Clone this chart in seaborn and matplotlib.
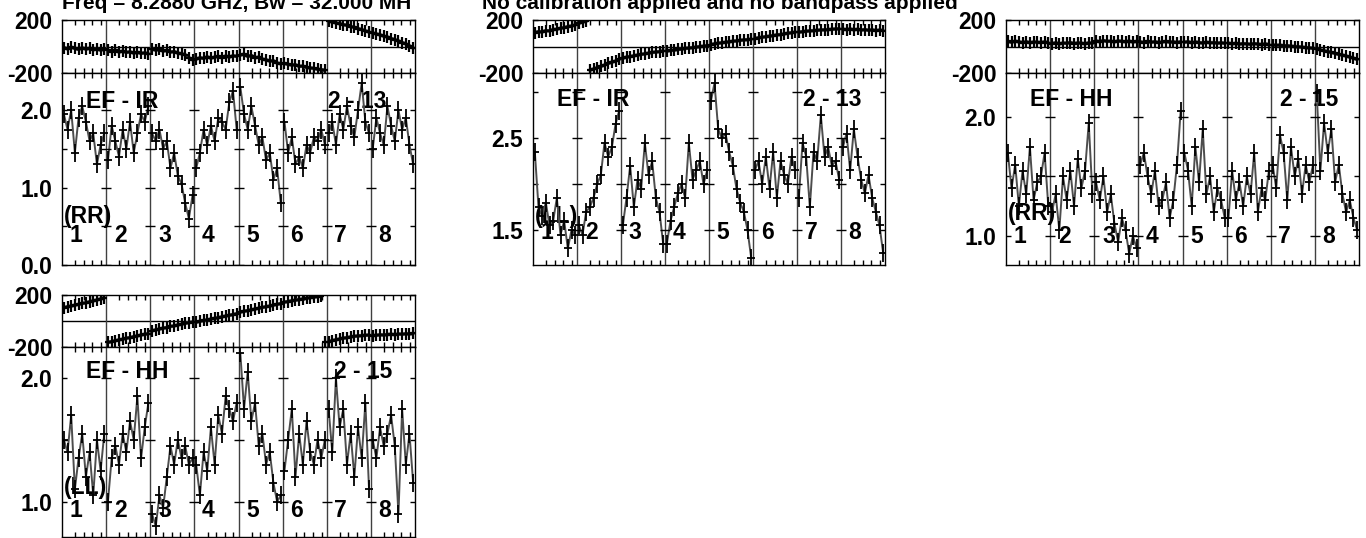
import numpy as np
import pandas as pd
import matplotlib
matplotlib.use("Agg")
import matplotlib.pyplot as plt
import seaborn as sns
from matplotlib.path import Path

# 8 IFs, 12 channels each
n_if = 8
n_chan = 12
if_names = ["1", "2", "3", "4", "5", "6", "7", "8"]

title_left = "Freq = 8.2880 GHz, Bw = 32.000 MH"
title_right = "No calibration applied and no bandpass applied"

# EF - IR, 2 - 13, RR
amp_p1 = [1.95, 1.75, 2.0, 1.45, 1.9, 2.05, 1.85, 1.6, 1.7, 1.3, 1.55, 1.7,
          1.35, 1.8, 1.6, 1.4, 1.75, 1.5, 1.85, 1.45, 1.7, 1.95, 1.85, 2.05,
          1.7, 1.6, 1.75, 1.5, 1.6, 1.25, 1.45, 1.15, 1.05, 0.8, 0.6, 0.9,
          1.25, 1.45, 1.75, 1.55, 1.8, 1.6, 1.9, 1.85, 1.75, 2.1, 2.25, 1.75,
          2.3, 1.95, 1.75, 2.05, 1.8, 1.55, 1.65, 1.35, 1.45, 1.1, 1.25, 0.8,
          1.85, 1.45, 1.65, 1.3, 1.4, 1.25, 1.55, 1.45, 1.65, 1.6, 1.75, 1.55,
          1.7, 1.85, 1.55, 1.95, 1.75, 2.05, 1.8, 1.65, 2.0, 2.35, 1.85, 1.7,
          1.5, 1.9, 1.7, 1.55, 2.05, 1.8, 1.6, 2.0, 1.75, 1.9, 1.55, 1.3]
phase_p1 = [-8, -18, -5, -15, -22, -10, -20, -14, -25, -18, -28, -20,
            -30, -38, -28, -42, -35, -45, -40, -50, -44, -52, -48, -55,
            -18, -28, -22, -35, -30, -42, -38, -50, -55, -62, -85, -100,
            -95, -85, -90, -78, -88, -80, -75, -85, -72, -80, -70, -75,
            -65, -58, -75, -68, -85, -80, -95, -100, -110, -108, -125, -130,
            -128, -135, -140, -138, -150, -148, -158, -162, -165, -172, -175, -180,
            192, 185, 178, 172, 165, 160, 150, 145, 135, 128, 118, 110,
            102, 95, 88, 78, 72, 60, 52, 42, 30, 20, 5, -12]

# EF - IR, 2 - 13, LL
amp_p2 = [2.35, 1.75, 1.65, 1.8, 1.55, 1.6, 1.85, 1.45, 1.6, 1.3, 1.5, 1.45,
          1.55, 1.45, 1.7, 1.75, 1.85, 2.0, 2.1, 2.45, 2.3, 2.4, 2.65, 2.8,
          1.55, 1.85, 2.2, 1.75, 2.05, 1.95, 2.45, 2.1, 2.25, 1.85, 1.7, 1.35,
          1.35, 1.6, 1.75, 1.9, 2.0, 1.85, 2.45, 2.05, 2.15, 2.25, 2.0, 2.15,
          2.9, 3.1, 2.6, 2.5, 2.55, 2.35, 2.2, 1.95, 1.8, 1.7, 1.5, 1.2,
          2.15, 2.25, 2.0, 2.3, 1.95, 2.35, 1.85, 2.25, 2.1, 2.0, 2.3, 2.15,
          1.85, 2.45, 2.3, 1.75, 2.35, 2.25, 2.75, 2.3, 2.4, 2.2, 2.25, 2.05,
          2.4, 2.55, 2.15, 2.6, 2.3, 2.05, 1.9, 2.1, 1.85, 1.7, 1.55, 1.25]
phase_p2 = [105, 112, 110, 120, 118, 128, 130, 138, 142, 150, 155, 162,
            175, 185, 190, -178, -170, -160, -150, -140, -128, -118, -110, -98,
            -88, -80, -76, -70, -65, -60, -55, -50, -45, -42, -38, -33,
            -35, -30, -28, -22, -20, -15, -12, -8, -5, 0, 2, 6,
            15, 20, 25, 28, 32, 35, 40, 42, 46, 50, 52, 55,
            60, 66, 70, 74, 78, 82, 88, 90, 95, 100, 104, 108,
            108, 112, 115, 118, 120, 122, 125, 126, 128, 130, 132, 134,
            130, 128, 132, 126, 130, 124, 128, 122, 126, 120, 124, 120]

# EF - HH, 2 - 15, RR
amp_p3 = [1.7, 1.4, 1.6, 1.25, 1.55, 1.35, 1.75, 1.3, 1.45, 1.5, 1.7, 1.25,
          1.2, 1.35, 1.05, 1.5, 1.3, 1.55, 1.25, 1.65, 1.4, 1.55, 1.95, 1.35,
          1.45, 1.3, 1.5, 1.2, 1.35, 1.1, 0.95, 1.15, 1.05, 0.85, 1.0, 0.9,
          1.6, 1.7, 1.5, 1.35, 1.55, 1.25, 1.3, 1.45, 1.15, 1.3, 1.6, 2.05,
          1.7, 1.55, 1.25, 1.75, 1.45, 1.9, 1.35, 1.5, 1.2, 1.4, 1.3, 1.15,
          1.15, 1.55, 1.3, 1.45, 1.25, 1.5, 1.35, 1.7, 1.2, 1.4, 1.3, 1.55,
          1.6, 1.4, 1.85, 1.7, 1.3, 1.75, 1.5, 1.65, 1.35, 1.6, 1.45, 1.6,
          2.2, 1.55, 1.95, 1.7, 1.9, 1.45, 1.6, 1.35, 1.2, 1.3, 1.15, 1.05]
phase_p3 = [38, 32, 40, 35, 30, 36, 28, 34, 32, 30, 35, 28,
            22, 28, 20, 26, 24, 30, 22, 27, 25, 20, 28, 24,
            42, 36, 45, 38, 40, 35, 42, 38, 36, 40, 34, 38,
            35, 30, 38, 32, 36, 30, 34, 38, 32, 35, 30, 36,
            32, 36, 28, 34, 30, 26, 32, 28, 30, 25, 28, 24,
            25, 20, 24, 18, 22, 20, 16, 22, 18, 15, 20, 14,
            12, 8, 10, 5, 6, 2, 0, -2, -5, -8, -10, -14,
            -18, -25, -32, -38, -45, -52, -60, -65, -72, -80, -88, -98]

# EF - HH, 2 - 15, LL
amp_p4 = [1.5, 1.4, 1.7, 1.1, 1.35, 1.55, 1.2, 1.4, 1.05, 1.5, 1.25, 1.55,
          1.0, 1.35, 1.45, 1.3, 1.55, 1.4, 1.65, 1.5, 1.85, 1.35, 1.6, 1.8,
          0.9, 0.8, 1.05, 0.95, 1.2, 1.45, 1.3, 1.5, 1.35, 1.45, 1.3, 1.35,
          1.3, 1.05, 1.4, 1.25, 1.6, 1.3, 1.7, 1.55, 1.85, 1.75, 1.65, 1.8,
          2.2, 1.75, 2.05, 1.65, 1.8, 1.45, 1.55, 1.3, 1.4, 1.15, 1.0, 1.05,
          1.25, 1.5, 1.75, 1.2, 1.55, 1.3, 1.65, 1.4, 1.3, 1.5, 1.35, 1.5,
          1.75, 1.4, 2.0, 1.6, 1.75, 1.3, 1.55, 1.2, 1.6, 1.35, 1.8, 1.1,
          1.5, 1.35, 1.6, 1.45, 1.55, 1.7, 1.45, 0.9, 1.75, 1.3, 1.55, 1.15]
phase_p4 = [102, 110, 115, 122, 128, 135, 140, 148, 155, 162, 170, 178,
            -165, -158, -152, -145, -140, -132, -128, -120, -115, -108, -102, -98,
            -75, -68, -62, -55, -50, -42, -38, -30, -25, -18, -12, -8,
            -10, -2, 4, 8, 15, 20, 25, 32, 38, 44, 50, 56,
            68, 75, 80, 86, 92, 98, 104, 110, 115, 122, 128, 134,
            145, 150, 156, 160, 165, 170, 175, 180, 184, 188, 192, -165,
            -160, -150, -145, -138, -132, -128, -122, -118, -115, -112, -110, -108,
            -112, -110, -106, -108, -104, -102, -105, -100, -102, -98, -100, -96]

sns.set_style("white")
plt.rcParams["font.family"] = ["Liberation Sans", "DejaVu Sans"]
plt.rcParams["font.weight"] = "bold"
for k in ["text.color", "axes.labelcolor", "xtick.color", "ytick.color"]:
    plt.rcParams[k] = "black"
FS = 16.5

W, H = 1366, 538
fig = plt.figure(figsize=(W / 100, H / 100), dpi=100)

# tall vertical bar, short horizontal bar (like an error cross)
cross = Path([(-0.45, 0), (0.45, 0), (0, -1), (0, 1)],
             [Path.MOVETO, Path.LINETO, Path.MOVETO, Path.LINETO])

bounds = np.arange(1, n_if) * n_chan
minor = np.concatenate([i * n_chan + np.array([3.6, 5.9, 8.2, 10.6]) for i in range(n_if)])


def make_df(amp, phase):
    amp = np.asarray(amp, float)
    phase = np.asarray(phase, float)
    ifn = np.arange(len(amp)) // n_chan
    new_if = np.r_[False, np.diff(ifn) != 0]
    wrap = np.r_[False, np.abs(np.diff(phase)) > 180]
    return pd.DataFrame({"x": np.arange(len(amp)) + 0.5, "amp": amp, "phase": phase,
                         "ifn": ifn, "seg": np.cumsum(new_if | wrap)})


def style_axis(ax):
    ax.set_xlim(0, n_if * n_chan)
    for b in bounds:
        ax.axvline(b, color="0.25", lw=1, zorder=1)
    for s in ax.spines.values():
        s.set_color("k")
        s.set_linewidth(1)
    ax.set_xticks(minor)
    ax.set_xticklabels([])
    ax.tick_params(axis="both", direction="in", length=3.5, width=1, color="k",
                   top=True, right=True, bottom=True, left=True,
                   labelsize=FS, pad=7)
    ax.set_xlabel("")
    ax.set_ylabel("")


def panel(left, right, top, split, bottom, amp, phase, ylim, yticks, ylabels,
          label, base, pol, lab_y, base_x, pol_y, num_y):
    df = make_df(amp, phase)
    axp = fig.add_axes([left / W, 1 - split / H, (right - left) / W, (split - top) / H])
    axa = fig.add_axes([left / W, 1 - bottom / H, (right - left) / W, (bottom - split) / H])

    sns.lineplot(data=df, x="x", y="phase", units="seg", estimator=None, sort=False,
                 ax=axp, color="0.2", lw=2.5, marker=cross, ms=9, mec="k", mew=1.6)
    axp.axhline(0, color="k", lw=1, zorder=1)
    axp.set_ylim(-200, 200)
    style_axis(axp)
    axp.set_yticks([-200, 200], ["-200", "200"])

    sns.lineplot(data=df, x="x", y="amp", units="ifn", estimator=None, sort=False,
                 ax=axa, color="0.3", lw=1.4, marker=cross, ms=13, mec="k", mew=1.3)
    axa.set_ylim(*ylim)
    style_axis(axa)
    axa.set_yticks(yticks, ylabels)
    # short tick marks on each IF separator line
    for t in yticks:
        axa.plot(bounds, [t] * len(bounds), ls="none", marker="_", ms=7, mew=1, color="k")

    kw = dict(fontsize=FS, fontweight="bold", zorder=1)
    axa.text(0.068, lab_y, label, transform=axa.transAxes, va="center", ha="left", **kw)
    axa.text(base_x, lab_y, base, transform=axa.transAxes, va="center", ha="left", **kw)
    axa.text(0.004, pol_y, pol, transform=axa.transAxes, va="center", ha="left", **kw)
    for i, name in enumerate(if_names):
        axa.text((i + 0.32) * n_chan, num_y, name, transform=axa.get_xaxis_transform(),
                 va="center", ha="center", **kw)


panel(62, 415, 20, 73, 265, amp_p1, phase_p1, (0, 2.48),
      [0, 0.5, 1.0, 1.5, 2.0], ["0.0", "", "1.0", "", "2.0"],
      "EF - IR", "2 - 13", "(RR)", 0.85, 0.754, 0.25, 0.156)
panel(533, 885, 20, 73, 265, amp_p2, phase_p2, (1.12, 3.21),
      [1.5, 2.0, 2.5, 3.0], ["1.5", "", "2.5", ""],
      "EF - IR", "2 - 13", "(LL)", 0.86, 0.767, 0.25, 0.167)
panel(1006, 1359, 20, 73, 265, amp_p3, phase_p3, (0.756, 2.37),
      [1.0, 1.5, 2.0], ["1.0", "", "2.0"],
      "EF - HH", "2 - 15", "(RR)", 0.86, 0.776, 0.27, 0.146)
panel(62, 415, 295, 347, 537, amp_p4, phase_p4, (0.714, 2.25),
      [1.0, 1.5, 2.0], ["1.0", "", "2.0"],
      "EF - HH", "2 - 15", "(LL)", 0.87, 0.77, 0.26, 0.14)

fig.text(62 / W, 1 - 9 / H, title_left, fontsize=15, fontweight="bold", va="baseline", ha="left")
fig.text(482 / W, 1 - 9 / H, title_right, fontsize=15, fontweight="bold", va="baseline", ha="left")

fig.savefig("out.png", dpi=100)
